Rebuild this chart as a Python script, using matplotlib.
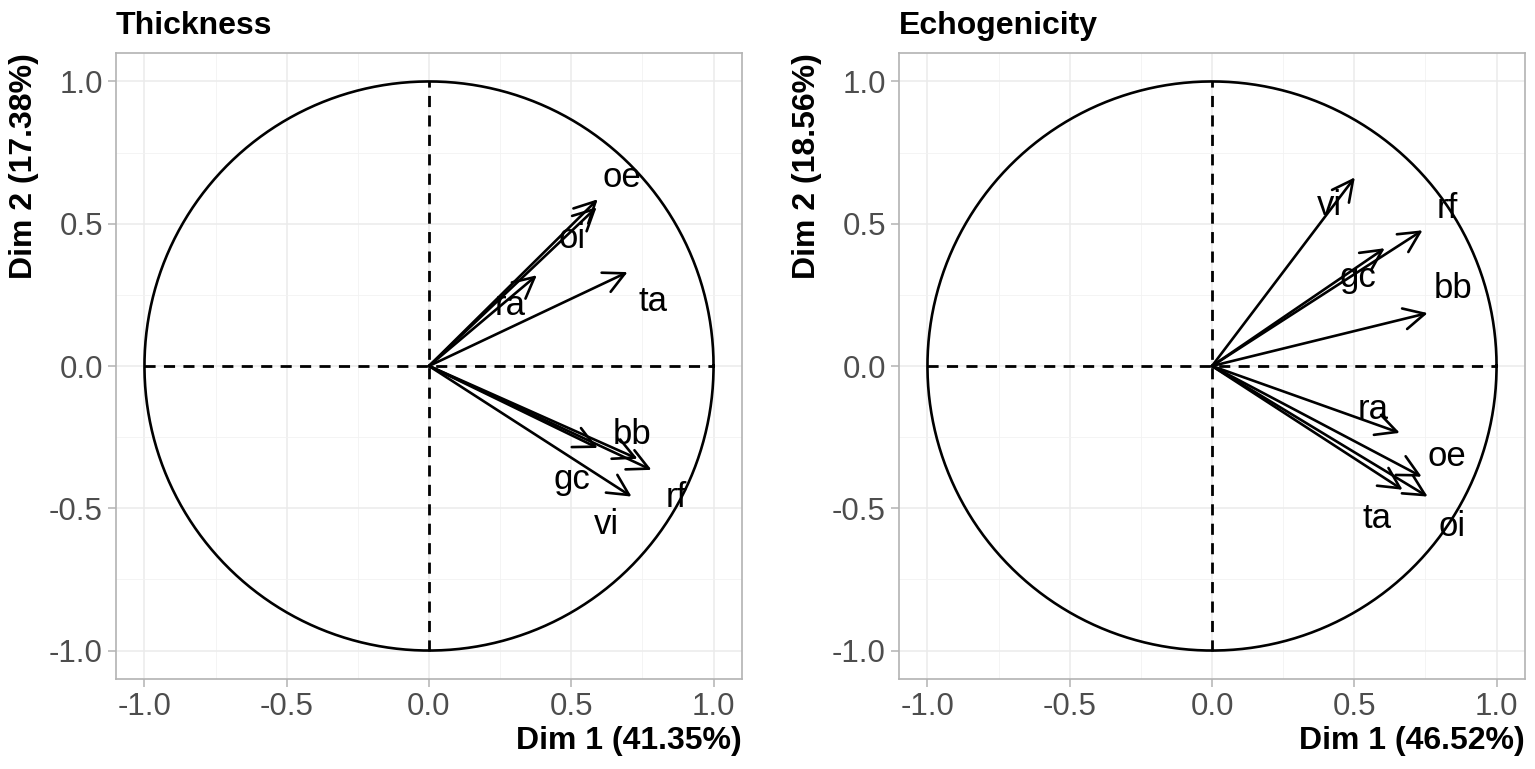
import numpy as np
import matplotlib.pyplot as plt

plt.rcParams['font.family'] = ['Liberation Sans', 'DejaVu Sans']

# variable names and coordinates
thick_vars = ['oe', 'oi', 'ra', 'ta', 'bb', 'gc', 'rf', 'vi']
thick_x = [0.593, 0.589, 0.379, 0.698, 0.733, 0.593, 0.782, 0.712]
thick_y = [0.586, 0.558, 0.319, 0.330, -0.326, -0.288, -0.365, -0.459]
thick_lab_x = [0.677, 0.502, 0.284, 0.786, 0.712, 0.502, 0.870, 0.625]
thick_lab_y = [0.663, 0.449, 0.214, 0.225, -0.242, -0.400, -0.463, -0.558]

echo_vars = ['vi', 'rf', 'gc', 'bb', 'ra', 'oe', 'oi', 'ta']
echo_x = [0.502, 0.740, 0.607, 0.758, 0.660, 0.737, 0.758, 0.670]
echo_y = [0.663, 0.477, 0.414, 0.186, -0.235, -0.389, -0.459, -0.435]
echo_lab_x = [0.414, 0.828, 0.512, 0.846, 0.565, 0.825, 0.842, 0.579]
echo_lab_y = [0.565, 0.554, 0.312, 0.274, -0.154, -0.319, -0.565, -0.537]

ticks = [-1.0, -0.5, 0.0, 0.5, 1.0]
minor = [-0.75, -0.25, 0.25, 0.75]

fig = plt.figure(figsize=(15.35, 7.69), dpi=100)


def draw_panel(ax, title, names, xs, ys, lx, ly, xlab, ylab):
    ax.set_xlim(-1.1, 1.1)
    ax.set_ylim(-1.1, 1.1)
    ax.set_xticks(ticks)
    ax.set_yticks(ticks)
    ax.set_xticks(minor, minor=True)
    ax.set_yticks(minor, minor=True)
    ax.grid(which='major', color='#EBEBEB', lw=1.1)
    ax.grid(which='minor', color='#F2F2F2', lw=0.6)
    ax.set_axisbelow(True)
    for s in ax.spines.values():
        s.set_color('#B3B3B3')
        s.set_linewidth(1.2)
    ax.tick_params(which='major', length=6, color='#B3B3B3', labelsize=22.5,
                   labelcolor='#4D4D4D', width=1.1)
    ax.tick_params(which='minor', length=0)
    ax.set_xticklabels(['-1.0', '-0.5', '0.0', '0.5', '1.0'])
    ax.set_yticklabels(['-1.0', '-0.5', '0.0', '0.5', '1.0'])

    t = np.linspace(0, 2 * np.pi, 400)
    ax.plot(np.cos(t), np.sin(t), color='black', lw=1.9)
    ax.plot([-1, 1], [0, 0], color='black', lw=2.0, ls=(0, (4, 3)))
    ax.plot([0, 0], [-1, 1], color='black', lw=2.0, ls=(0, (4, 3)))

    for n, x, y, tx, ty in zip(names, xs, ys, lx, ly):
        ax.annotate('', xy=(x, y), xytext=(0, 0),
                    arrowprops=dict(arrowstyle='->,head_length=0.75,head_width=0.38',
                                    color='black', lw=1.9, mutation_scale=20,
                                    shrinkA=0, shrinkB=0))
        ax.text(tx, ty, n, fontsize=25, ha='center', va='center', color='black')

    ax.set_title(title, loc='left', fontsize=23, fontweight='bold', pad=14)
    ax.set_xlabel(xlab, fontsize=23, fontweight='bold', loc='right', labelpad=3)
    ax.set_ylabel(ylab, fontsize=23, fontweight='bold', loc='top', labelpad=7)


ax1 = fig.add_axes([116 / 1535, 90 / 769, 626 / 1535, 626 / 769])
ax2 = fig.add_axes([899 / 1535, 90 / 769, 626 / 1535, 626 / 769])

draw_panel(ax1, 'Thickness', thick_vars, thick_x, thick_y, thick_lab_x, thick_lab_y,
           'Dim 1 (41.35%)', 'Dim 2 (17.38%)')
draw_panel(ax2, 'Echogenicity', echo_vars, echo_x, echo_y, echo_lab_x, echo_lab_y,
           'Dim 1 (46.52%)', 'Dim 2 (18.56%)')

fig.savefig('out.png', dpi=100)
